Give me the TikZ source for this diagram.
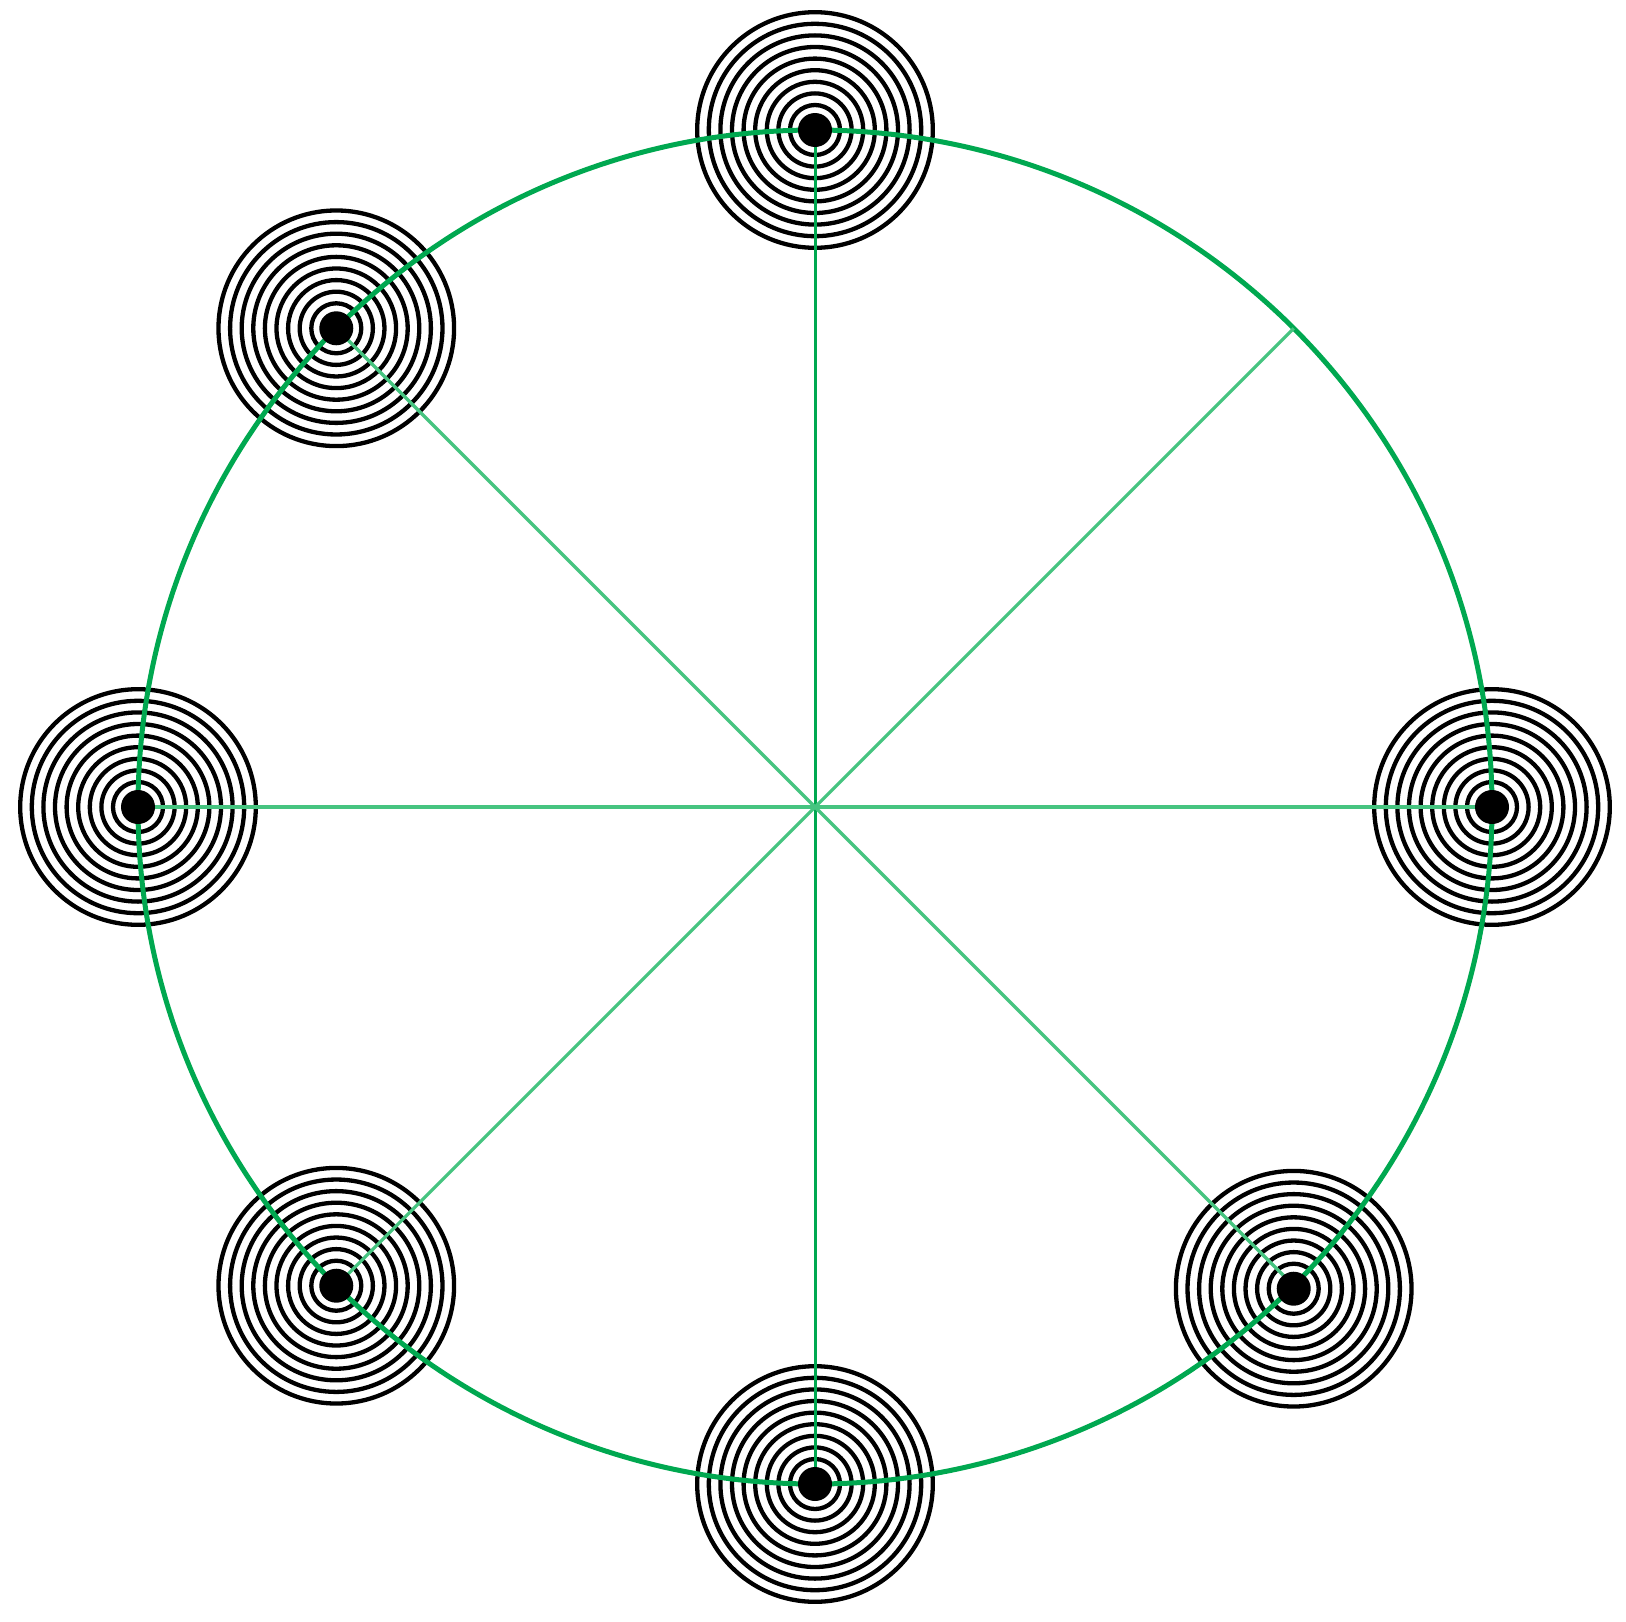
\documentclass[tikz,border=0pt]{standalone}
\usetikzlibrary{calc}
\begin{document}
\begin{tikzpicture}[x=1pt,y=-1pt,
  ring/.style={draw=black,line width=4.3pt},
  rim/.style={draw={rgb,255:red,0;green,168;blue,80},line width=5pt},
  spoke/.style={draw={rgb,255:red,70;green,196;blue,128},line width=3.2pt},
  vspoke/.style={draw={rgb,255:red,0;green,168;blue,80},line width=3pt},
  dot/.style={fill=black}]
\useasboundingbox (0,0) rectangle (1626,1622);
\coordinate (c) at (815,807);
% screen angle a -> polar angle -a because the y axis points down
\foreach \a/\n in {0/p0,45/p45,90/p90,135/p135,180/p180,225/p225,270/p270,315/p315}
  \coordinate (\n) at ($(c)+(-\a:677)$);
% the lower right target sits slightly off the circle
\coordinate (q315) at ($(p315)+(0,3)$);
% targets
\foreach \n in {p0,p90,p135,p180,p225,p270,q315}{
  \foreach \r in {25,36.6,...,119}
    \draw[ring] (\n) circle[radius=\r];
}
% green structure
\draw[rim] (c) circle[radius=677];
\draw[vspoke] (p90) -- (p270);
\draw[spoke] (p0) -- (p180);
\draw[spoke] (p135) -- (p315);
\draw[spoke] (p45) -- (p225);
\foreach \n in {p0,p90,p135,p180,p225,p270,q315}
  \fill[dot] (\n) circle[radius=17];
\end{tikzpicture}
\end{document}
